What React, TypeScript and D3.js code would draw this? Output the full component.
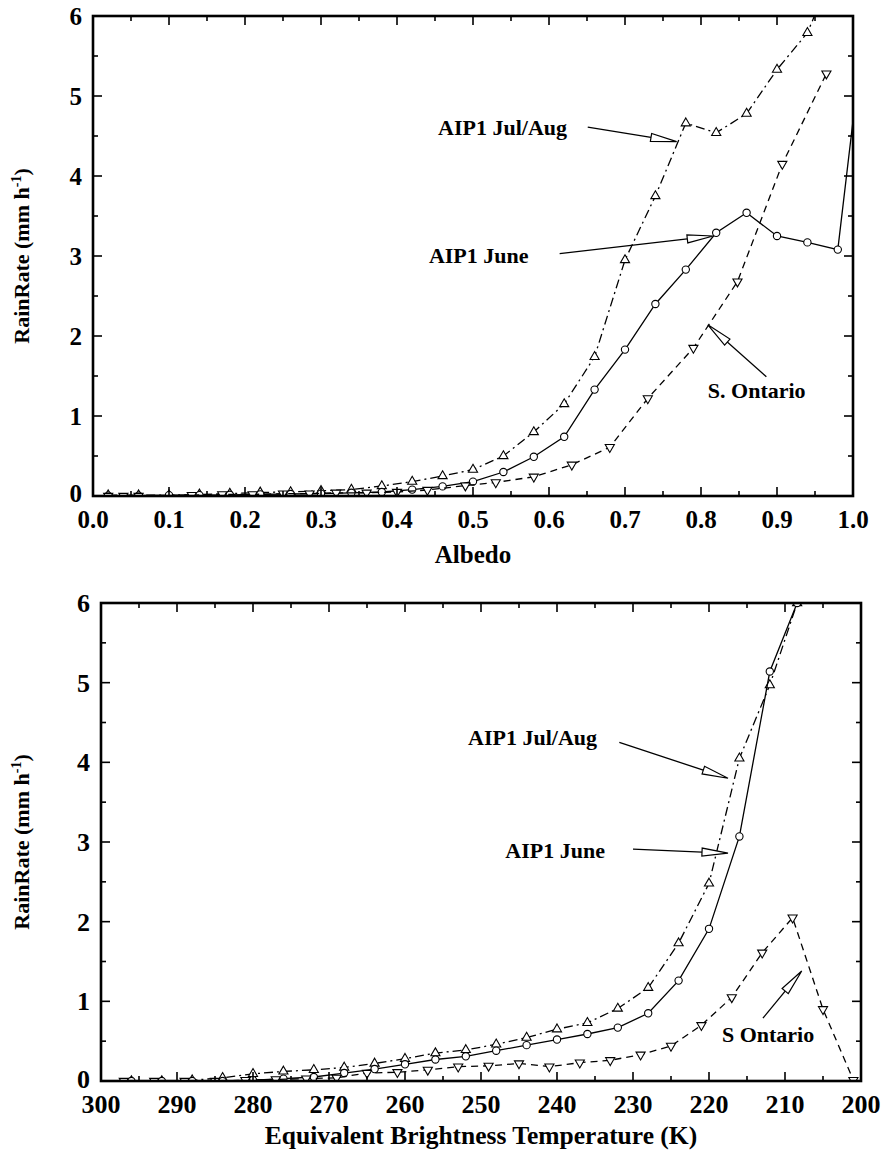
import React from "react";
import * as d3 from "d3";

// ---- top panel: rain rate vs albedo ----
const albedoJulAug = [0.02, 0.06, 0.10, 0.14, 0.18, 0.22, 0.26, 0.30, 0.34, 0.38, 0.42, 0.46, 0.50, 0.54, 0.58, 0.62, 0.66, 0.70, 0.74, 0.78, 0.82, 0.86, 0.90, 0.94, 0.98];
const rainAlbJulAug = [0.01, 0.01, 0.01, 0.02, 0.03, 0.045, 0.05, 0.065, 0.08, 0.125, 0.18, 0.25, 0.33, 0.5, 0.8, 1.15, 1.74, 2.95, 3.75, 4.66, 4.54, 4.78, 5.33, 5.79, 6.7];

const albedoJune = [0.02, 0.06, 0.10, 0.14, 0.18, 0.22, 0.26, 0.30, 0.34, 0.38, 0.42, 0.46, 0.50, 0.54, 0.58, 0.62, 0.66, 0.70, 0.74, 0.78, 0.82, 0.86, 0.90, 0.94, 0.98, 1.02];
const rainAlbJune = [0.005, 0.005, 0.01, 0.01, 0.015, 0.02, 0.025, 0.03, 0.04, 0.05, 0.08, 0.12, 0.18, 0.3, 0.49, 0.74, 1.33, 1.83, 2.4, 2.83, 3.29, 3.54, 3.25, 3.17, 3.08, 6.3];

const albedoOntario = [0.02, 0.04, 0.06, 0.13, 0.17, 0.21, 0.25, 0.285, 0.32, 0.36, 0.40, 0.44, 0.49, 0.53, 0.58, 0.63, 0.68, 0.73, 0.79, 0.848, 0.907, 0.965];
const rainAlbOntario = [0.0, 0.0, 0.0, 0.01, 0.02, 0.02, 0.03, 0.03, 0.04, 0.04, 0.05, 0.075, 0.13, 0.17, 0.24, 0.39, 0.61, 1.22, 1.85, 2.68, 4.15, 5.28];

// ---- bottom panel: rain rate vs brightness temperature ----
const tbJulAug = [296, 292, 288, 284, 280, 276, 272, 268, 264, 260, 256, 252, 248, 244, 240, 236, 232, 228, 224, 220, 216, 212, 208.4];
const rainTbJulAug = [0.0, 0.0, 0.01, 0.04, 0.09, 0.12, 0.14, 0.17, 0.22, 0.28, 0.35, 0.39, 0.46, 0.545, 0.65, 0.73, 0.91, 1.17, 1.73, 2.48, 4.05, 4.97, 6.0];

const tbJune = [296, 292, 288, 284, 280, 276, 272, 268, 264, 260, 256, 252, 248, 244, 240, 236, 232, 228, 224, 220, 216, 212, 208.4];
const rainTbJune = [0.0, 0.0, 0.0, 0.0, 0.01, 0.03, 0.05, 0.1, 0.15, 0.21, 0.27, 0.31, 0.38, 0.45, 0.52, 0.59, 0.67, 0.85, 1.26, 1.91, 3.07, 5.14, 6.0];

const tbOntario = [297, 293, 289, 285, 281, 277, 273, 269, 265, 261, 257, 253, 249, 245, 241, 237, 233, 229, 225, 221, 217, 213, 209, 205, 201];
const rainTbOntario = [0.0, 0.0, 0.0, 0.0, 0.01, 0.02, 0.03, 0.04, 0.1, 0.11, 0.14, 0.18, 0.19, 0.22, 0.18, 0.23, 0.26, 0.33, 0.44, 0.7, 1.05, 1.61, 2.05, 0.9, 0.01];

const albedoTicks = [0.0, 0.1, 0.2, 0.3, 0.4, 0.5, 0.6, 0.7, 0.8, 0.9, 1.0];
const tbTicks = [300, 290, 280, 270, 260, 250, 240, 230, 220, 210, 200];
const rainTicks = [0, 1, 2, 3, 4, 5, 6];

// annotations: label, text anchor [x, y], arrow start, arrow tip (data units)
const albedoNotes = [
    { label: "AIP1 Jul/Aug", text: [0.454, 4.51], from: [0.651, 4.61], to: [0.768, 4.43] },
    { label: "AIP1 June", text: [0.442, 2.91], from: [0.614, 3.03], to: [0.816, 3.25] },
    { label: "S. Ontario", text: [0.809, 1.22], from: [0.886, 1.49], to: [0.809, 2.14] },
];
const tbNotes = [
    { label: "AIP1 Jul/Aug", text: [251.7, 4.22], from: [231.8, 4.25], to: [217.5, 3.8] },
    { label: "AIP1 June", text: [246.8, 2.8], from: [230, 2.91], to: [217.5, 2.86] },
    { label: "S Ontario", text: [218.3, 0.49], from: [212.9, 0.79], to: [207.8, 1.38] },
];

const FONT = "Liberation Serif";

const zip = (xs, ys) => xs.map((x, i) => [x, ys[i]]);

const Arrow = ({ x1, y1, x2, y2 }) => {
    const len = Math.hypot(x2 - x1, y2 - y1);
    const ux = (x2 - x1) / len, uy = (y2 - y1) / len;
    const head = 26, half = 4;
    const bx = x2 - ux * head, by = y2 - uy * head;
    const pts = [[x2, y2], [bx - uy * half, by + ux * half], [bx + uy * half, by - ux * half]];
    return (
        <g>
            <line x1={x1} y1={y1} x2={bx} y2={by} stroke="#000" strokeWidth={1.3} />
            <polygon points={pts.map((p) => p.join(",")).join(" ")} fill="#fff" stroke="#000" strokeWidth={1.2} />
        </g>
    );
};

const Panel = ({ id, left, right, top, bottom, xDomain, xTicks, xMinor, xFmt, tickSize, series, notes, xTitle, xTitleY, xTitleSize }) => {
    const x = d3.scaleLinear().domain(xDomain).range([left, right]);
    const y = d3.scaleLinear().domain([0, 6]).range([bottom, top]);
    const line = d3.line().x((d) => x(d[0])).y((d) => y(d[1]));
    const yMinor = d3.range(0.5, 6, 1);

    return (
        <g fontFamily={FONT} fontWeight="bold">
            <clipPath id={id}>
                <rect x={left} y={top} width={right - left} height={bottom - top} />
            </clipPath>

            <g clipPath={`url(#${id})`}>
                {series.map((s) => {
                    const pts = zip(s.xs, s.ys);
                    const sym = d3.symbol()
                        .type(s.marker === "circle" ? d3.symbolCircle : d3.symbolTriangle)
                        .size(s.marker === "circle" ? 42 : 36)();
                    return (
                        <g key={s.name}>
                            <path d={line(pts)} fill="none" stroke="#000" strokeWidth={1.3} strokeDasharray={s.dash || undefined} />
                            {pts.map((d, i) => (
                                <path
                                    key={i}
                                    d={sym}
                                    transform={`translate(${x(d[0])},${y(d[1])})${s.marker === "down" ? " rotate(180)" : ""}`}
                                    fill="#fff"
                                    stroke="#000"
                                    strokeWidth={1.1}
                                />
                            ))}
                        </g>
                    );
                })}
            </g>

            <rect x={left} y={top} width={right - left} height={bottom - top} fill="none" stroke="#000" strokeWidth={2.6} />

            {/* inward ticks on all four sides */}
            <g stroke="#000" strokeWidth={1.6}>
                {xTicks.map((t) => (
                    <g key={"xt" + t}>
                        <line x1={x(t)} x2={x(t)} y1={bottom} y2={bottom - 9} />
                        <line x1={x(t)} x2={x(t)} y1={top} y2={top + 9} />
                    </g>
                ))}
                {xMinor.map((t) => (
                    <g key={"xm" + t}>
                        <line x1={x(t)} x2={x(t)} y1={bottom} y2={bottom - 5} />
                        <line x1={x(t)} x2={x(t)} y1={top} y2={top + 5} />
                    </g>
                ))}
                {rainTicks.map((t) => (
                    <g key={"yt" + t}>
                        <line x1={left} x2={left + 9} y1={y(t)} y2={y(t)} />
                        <line x1={right} x2={right - 9} y1={y(t)} y2={y(t)} />
                    </g>
                ))}
                {yMinor.map((t) => (
                    <g key={"ym" + t}>
                        <line x1={left} x2={left + 5} y1={y(t)} y2={y(t)} />
                        <line x1={right} x2={right - 5} y1={y(t)} y2={y(t)} />
                    </g>
                ))}
            </g>

            {xTicks.map((t) => (
                <text key={"xl" + t} x={x(t)} y={bottom + 32} textAnchor="middle" fontSize={tickSize}>
                    {xFmt(t)}
                </text>
            ))}
            {rainTicks.map((t) => (
                <text key={"yl" + t} x={left - 11} y={y(t)} dy={t === 0 ? "0.25em" : "0.35em"} textAnchor="end" fontSize={tickSize}>
                    {t}
                </text>
            ))}

            <text x={(left + right) / 2} y={xTitleY} textAnchor="middle" fontSize={xTitleSize}>
                {xTitle}
            </text>
            <text transform={`translate(29,${(top + bottom) / 2}) rotate(-90)`} textAnchor="middle" fontSize={22}>
                <tspan>RainRate (mm h</tspan>
                <tspan dy={-8} fontSize={14}>-1</tspan>
                <tspan dy={8}>)</tspan>
            </text>

            {notes.map((n) => (
                <g key={n.label}>
                    <text x={x(n.text[0])} y={y(n.text[1])} fontSize={22}>
                        {n.label}
                    </text>
                    <Arrow x1={x(n.from[0])} y1={y(n.from[1])} x2={x(n.to[0])} y2={y(n.to[1])} />
                </g>
            ))}
        </g>
    );
};

const App = () => (
    <svg width={883} height={1155} style={{ position: "absolute", left: 0, top: 0, background: "#fff" }}>
        <Panel
            id="clip-albedo"
            left={93}
            right={853}
            top={16}
            bottom={496}
            xDomain={[0, 1]}
            xTicks={albedoTicks}
            xMinor={d3.range(0.05, 1, 0.1)}
            xFmt={(d) => d.toFixed(1)}
            tickSize={25}
            series={[
                { name: "julaug", xs: albedoJulAug, ys: rainAlbJulAug, dash: "9,4,2,4", marker: "up" },
                { name: "june", xs: albedoJune, ys: rainAlbJune, dash: null, marker: "circle" },
                { name: "ontario", xs: albedoOntario, ys: rainAlbOntario, dash: "7,5", marker: "down" },
            ]}
            notes={albedoNotes}
            xTitle="Albedo"
            xTitleY={563}
            xTitleSize={25}
        />
        <Panel
            id="clip-tb"
            left={101}
            right={861}
            top={603}
            bottom={1081}
            xDomain={[300, 200]}
            xTicks={tbTicks}
            xMinor={d3.range(295, 200, -10)}
            xFmt={(d) => d}
            tickSize={26}
            series={[
                { name: "julaug", xs: tbJulAug, ys: rainTbJulAug, dash: "9,4,2,4", marker: "up" },
                { name: "june", xs: tbJune, ys: rainTbJune, dash: null, marker: "circle" },
                { name: "ontario", xs: tbOntario, ys: rainTbOntario, dash: "7,5", marker: "down" },
            ]}
            notes={tbNotes}
            xTitle="Equivalent Brightness Temperature (K)"
            xTitleY={1144}
            xTitleSize={25.5}
        />
    </svg>
);

export default App;
